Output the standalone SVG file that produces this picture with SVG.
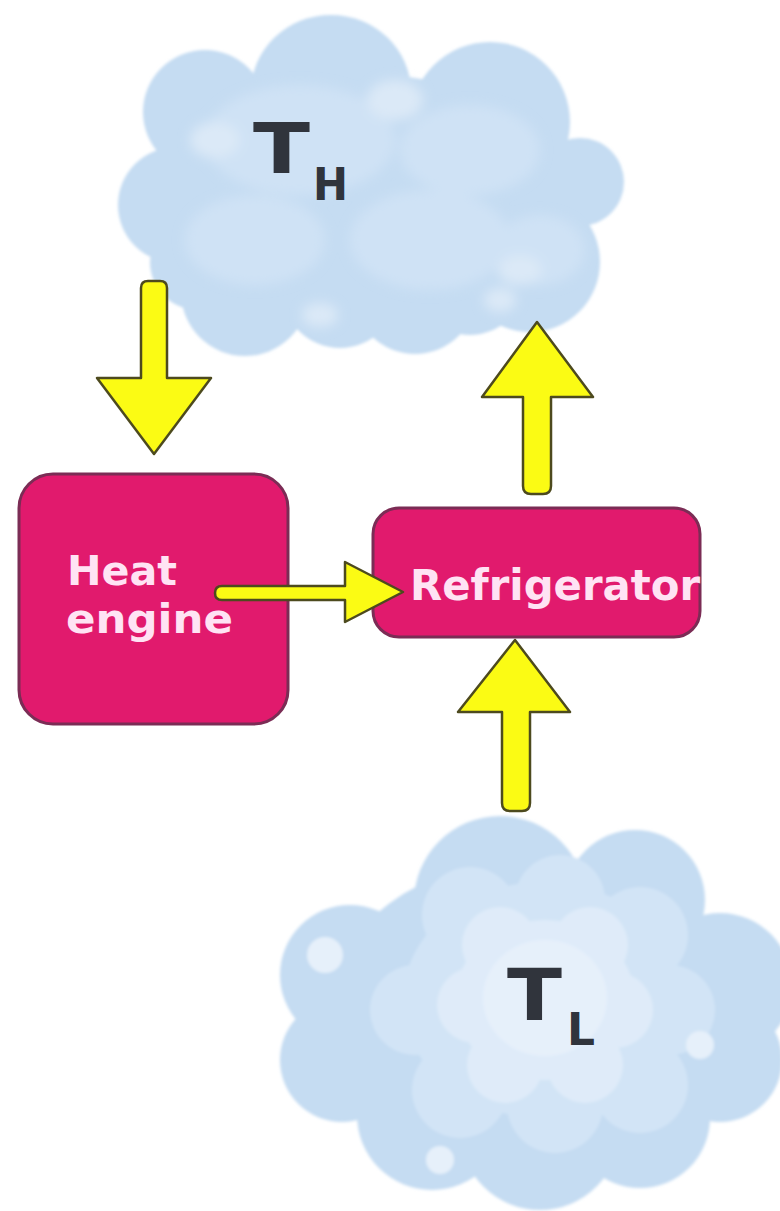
<svg xmlns="http://www.w3.org/2000/svg" width="780" height="1211" viewBox="0 0 780 1211">
  <defs>
    <style>
      .cloud-base { fill: #c5dcf2; }
      .cloud-mid { fill: #cfe2f5; }
      .cloud-light { fill: #dbe9f7; }
      .cloud-core { fill: #e6f0fa; }
      .cold-mid { fill: #d2e4f6; }
      .cold-light { fill: #dfebf9; }
      .box { fill: #e11a6d; stroke: #7b2c55; stroke-width: 3; }
      .box-label { font-family: "DejaVu Sans", "Liberation Sans", sans-serif; font-weight: bold; fill: #ffe3f4; }
      .temp { font-family: "DejaVu Sans", "Liberation Sans", sans-serif; font-weight: bold; fill: #30343c; }
      .arrow { fill: #fbfb14; stroke: #4d4a1e; stroke-width: 2.5; stroke-linejoin: round; }
    </style>
    <filter id="soft" x="-5%" y="-5%" width="110%" height="110%">
      <feGaussianBlur stdDeviation="1.6"/>
    </filter>
    <filter id="haze" x="-20%" y="-20%" width="140%" height="140%">
      <feGaussianBlur stdDeviation="6"/>
    </filter>
  </defs>

  <rect width="780" height="1211" fill="#ffffff"/>

  <!-- hot reservoir -->
  <g id="hot-reservoir">
    <g filter="url(#soft)">
      <g class="cloud-base">
        <ellipse cx="370" cy="195" rx="200" ry="120"/>
        <circle cx="205" cy="112" r="62"/>
        <ellipse cx="331" cy="92" rx="80" ry="77"/>
        <circle cx="490" cy="122" r="80"/>
        <circle cx="580" cy="182" r="44"/>
        <circle cx="530" cy="262" r="70"/>
        <circle cx="176" cy="205" r="58"/>
        <circle cx="198" cy="262" r="48"/>
        <circle cx="245" cy="292" r="64"/>
        <circle cx="340" cy="290" r="58"/>
        <circle cx="415" cy="292" r="62"/>
        <circle cx="470" cy="280" r="55"/>
      </g>
    </g>
    <g filter="url(#haze)">
      <g class="cloud-mid">
        <ellipse cx="300" cy="140" rx="95" ry="55"/>
        <ellipse cx="470" cy="150" rx="70" ry="45"/>
        <ellipse cx="255" cy="240" rx="70" ry="45"/>
        <ellipse cx="430" cy="240" rx="80" ry="50"/>
        <ellipse cx="540" cy="250" rx="45" ry="35"/>
      </g>
      <g class="cloud-light">
        <ellipse cx="215" cy="140" rx="25" ry="18"/>
        <ellipse cx="395" cy="100" rx="28" ry="20"/>
        <ellipse cx="520" cy="270" rx="22" ry="15"/>
        <ellipse cx="500" cy="300" rx="16" ry="12"/>
        <ellipse cx="320" cy="315" rx="18" ry="12"/>
      </g>
    </g>
    <text class="temp" x="253" y="173" font-size="70" textLength="57" lengthAdjust="spacingAndGlyphs">T</text>
    <text class="temp" x="313" y="200" font-size="44" textLength="35" lengthAdjust="spacingAndGlyphs">H</text>
  </g>

  <!-- cold reservoir -->
  <g id="cold-reservoir">
    <g filter="url(#soft)">
      <g class="cloud-base">
        <ellipse cx="530" cy="1010" rx="200" ry="150"/>
        <circle cx="500" cy="902" r="86"/>
        <circle cx="635" cy="900" r="70"/>
        <circle cx="720" cy="985" r="72"/>
        <circle cx="350" cy="975" r="70"/>
        <circle cx="342" cy="1060" r="62"/>
        <circle cx="432" cy="1115" r="75"/>
        <circle cx="540" cy="1130" r="80"/>
        <circle cx="640" cy="1118" r="70"/>
        <circle cx="720" cy="1060" r="62"/>
      </g>
      <g class="cold-mid">
        <circle cx="470" cy="915" r="48"/>
        <circle cx="560" cy="900" r="45"/>
        <circle cx="640" cy="935" r="48"/>
        <circle cx="670" cy="1010" r="45"/>
        <circle cx="640" cy="1085" r="48"/>
        <circle cx="555" cy="1105" r="48"/>
        <circle cx="460" cy="1090" r="48"/>
        <circle cx="415" cy="1010" r="45"/>
        <ellipse cx="543" cy="1000" rx="140" ry="118"/>
      </g>
      <g class="cold-light">
        <circle cx="500" cy="945" r="38"/>
        <circle cx="590" cy="945" r="38"/>
        <circle cx="615" cy="1010" r="38"/>
        <circle cx="585" cy="1065" r="38"/>
        <circle cx="505" cy="1065" r="38"/>
        <circle cx="475" cy="1005" r="38"/>
        <ellipse cx="545" cy="1000" rx="90" ry="80"/>
      </g>
      <g class="cloud-core">
        <ellipse cx="545" cy="998" rx="62" ry="58"/>
        <circle cx="325" cy="955" r="18"/>
        <circle cx="440" cy="1160" r="14"/>
        <circle cx="700" cy="1045" r="14"/>
      </g>
    </g>
    <text class="temp" x="507" y="1020" font-size="72" textLength="55" lengthAdjust="spacingAndGlyphs">T</text>
    <text class="temp" x="567" y="1045" font-size="44" textLength="28" lengthAdjust="spacingAndGlyphs">L</text>
  </g>

  <!-- machines -->
  <g id="heat-engine">
    <rect class="box" x="19" y="474" width="269" height="250" rx="34"/>
    <text class="box-label" x="67" y="585" font-size="40" textLength="110" lengthAdjust="spacingAndGlyphs">Heat</text>
    <text class="box-label" x="66" y="633" font-size="40" textLength="167" lengthAdjust="spacingAndGlyphs">engine</text>
  </g>

  <g id="refrigerator">
    <rect class="box" x="373" y="508" width="327" height="129" rx="26"/>
    <text class="box-label" x="410" y="600" font-size="42" textLength="290" lengthAdjust="spacingAndGlyphs">Refrigerator</text>
  </g>

  <!-- heat and work flows -->
  <g id="connectors">
    <path class="arrow" d="M141,378 V288 Q141,281 148,281 H160 Q167,281 167,288 V378 H211 L154,454 L97,378 Z"/>
    <path class="arrow" d="M537,322 L593,397 H551 V486 Q551,494 543,494 H531 Q523,494 523,486 V397 H482 Z"/>
    <path class="arrow" d="M222,586 H345 V562 L403,592 L345,622 V600 H222 Q215,600 215,593 Q215,586 222,586 Z"/>
    <path class="arrow" d="M515,640 L570,712 H530 V803 Q530,811 522,811 H510 Q502,811 502,803 V712 H458 Z"/>
  </g>
</svg>
